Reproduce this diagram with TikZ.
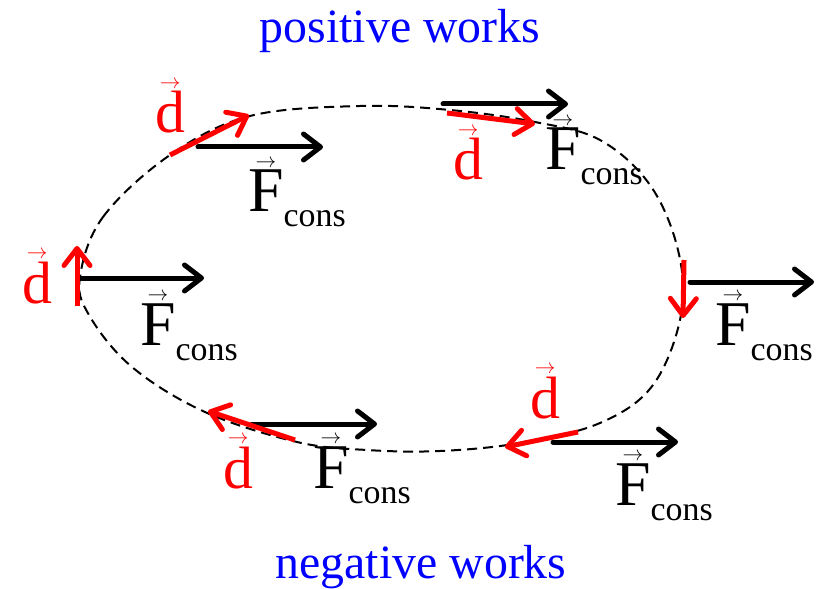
\documentclass[tikz,border=0pt]{standalone}
\usepackage{fontspec}
\setmainfont{Liberation Serif}
\usepackage{tikz}
\usetikzlibrary{arrows.meta}

\newcommand{\withvec}[2]{\leavevmode\vbox{\offinterlineskip\halign{\hfil##\hfil\cr
  {\fontsize{#2}{#2}\selectfont$\rightarrow$}\cr\noalign{\kern3bp}#1\cr}}}
\newcommand{\Fcons}{{\fontsize{64}{64}\selectfont\withvec{F}{22}\raisebox{-15bp}{\fontsize{34}{34}\selectfont cons}}}
\newcommand{\dvec}{{\fontsize{60}{60}\selectfont\withvec{d}{22}}}

\begin{document}
\begin{tikzpicture}[
    x=1bp, y=-1bp,
    path/.style={dash pattern=on 10bp off 6bp, line width=2bp},
    force/.style={black, line width=5bp, line cap=round,
        -{Straight Barb[length=17bp, width=26bp, round]}},
    disp/.style={red, line width=5bp,
        -{Straight Barb[length=17bp, width=26bp, round]}},
    flabel/.style={anchor=base west, inner sep=0pt},
    dlabel/.style={anchor=base west, inner sep=0pt, text=red},
    title/.style={anchor=base, inner sep=0pt, text=blue, font=\fontsize{48}{50}\selectfont}
]
\useasboundingbox (0,0) rectangle (823,589);

\node[title] (pos) at (400,43)  {positive works};
\node[title] (neg) at (421,578) {negative works};

\draw[path] plot[smooth cycle, tension=0.6] coordinates {
    (80,277) (103,217) (170,155) (250,116) (360,106) (450,110)
    (535,122) (600,140) (650,185) (678,250) (681,315) (653,385)
    (600,423) (520,443) (440,451) (367,450) (297,442) (205,412)
    (132,367) (89,315)};

% forces
\coordinate (f1s) at (198,147); \coordinate (f1e) at (323,147);
\coordinate (f2s) at (443,104); \coordinate (f2e) at (568,104);
\coordinate (f3s) at (80,278);  \coordinate (f3e) at (204,278);
\coordinate (f4s) at (690,282); \coordinate (f4e) at (814,282);
\coordinate (f5s) at (553,442); \coordinate (f5e) at (678,442);
\coordinate (f6s) at (252,424); \coordinate (f6e) at (377,424);

\draw[force] (f1s) -- (f1e);
\draw[force] (f2s) -- (f2e);
\draw[force] (f3s) -- (f3e);
\draw[force] (f4s) -- (f4e);
\draw[force] (f5s) -- (f5e);
\draw[force] (f6s) -- (f6e);

% displacements
\coordinate (d1s) at (170,155); \coordinate (d1e) at (249,115);
\coordinate (d2s) at (447,113); \coordinate (d2e) at (535,124);
\coordinate (d3s) at (77,306);  \coordinate (d3e) at (77,246);
\coordinate (d4s) at (684,260); \coordinate (d4e) at (683,318);
\coordinate (d5s) at (578,432); \coordinate (d5e) at (505,447);
\coordinate (d6s) at (295,440); \coordinate (d6e) at (208,411);

\draw[disp] (d1s) -- (d1e);
\draw[disp] (d2s) -- (d2e);
\draw[disp] (d3s) -- (d3e);
\draw[disp] (d4s) -- (d4e);
\draw[disp] (d5s) -- (d5e);
\draw[disp] (d6s) -- (d6e);

\node[flabel] (F1) at (248,212) {\Fcons};
\node[flabel] (F2) at (545,170) {\Fcons};
\node[flabel] (F3) at (140,345) {\Fcons};
\node[flabel] (F4) at (715,345) {\Fcons};
\node[flabel] (F5) at (615,505) {\Fcons};
\node[flabel] (F6) at (313,488) {\Fcons};

\node[dlabel] (D1) at (155,133) {\dvec};
\node[dlabel] (D2) at (453,180) {\dvec};
\node[dlabel] (D3) at (22,303)  {\dvec};
\node[dlabel] (D5) at (530,418) {\dvec};
\node[dlabel] (D6) at (223,488) {\dvec};
\end{tikzpicture}
\end{document}
